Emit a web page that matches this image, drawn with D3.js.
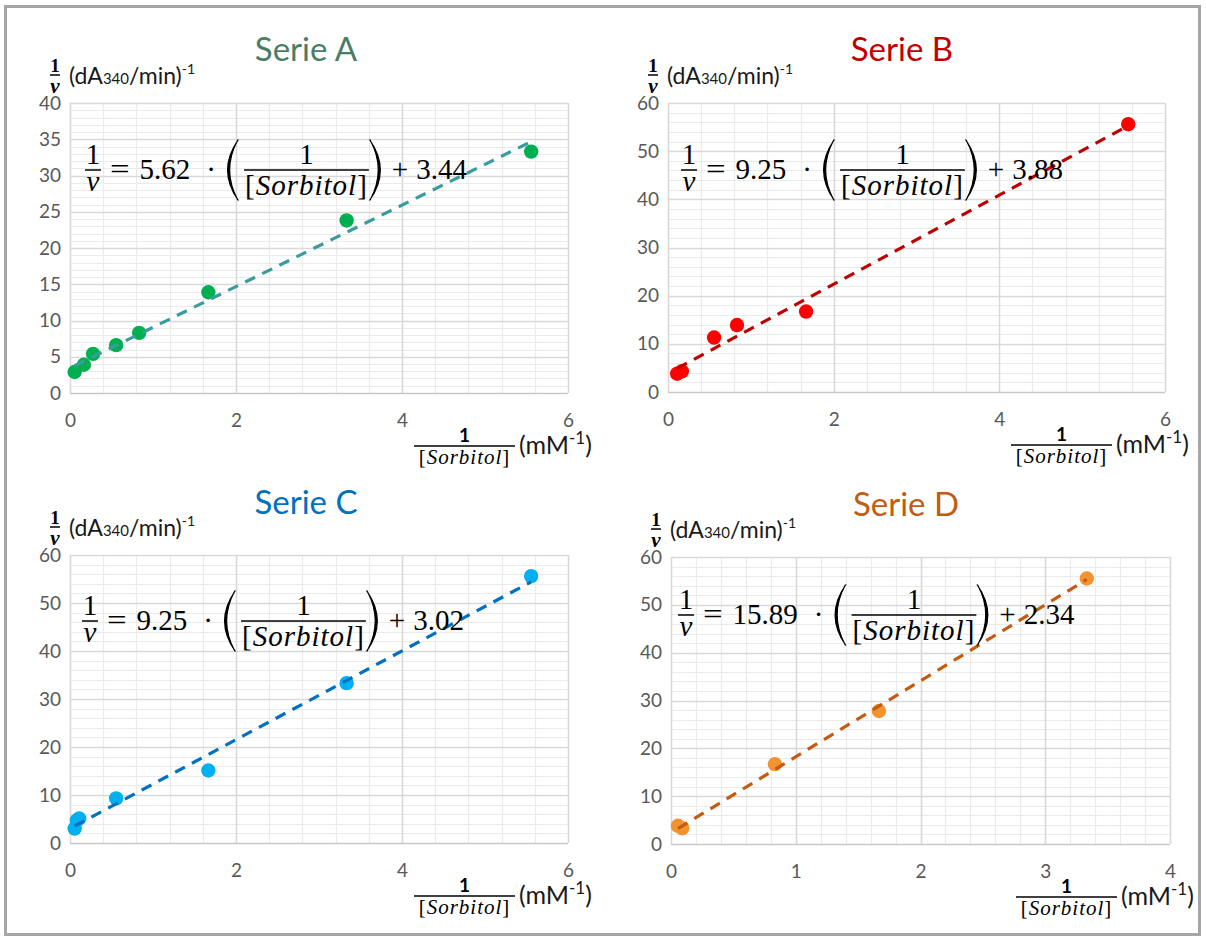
<!DOCTYPE html>
<html><head><meta charset="utf-8">
<script src="https://cdn.jsdelivr.net/npm/d3@7"></script>
<style>body{margin:0;background:#fff}svg{display:block}</style>
</head><body>
<svg id="chart" width="1206" height="940"></svg>
<script>
// ---- data ----
const titles = ["Serie A", "Serie B", "Serie C", "Serie D"];
const xA = [0.056, 0.167, 0.278, 0.556, 0.833, 1.667, 3.333, 5.556];
const yA = [2.9, 3.9, 5.4, 6.6, 8.3, 13.9, 23.8, 33.3];
const xB = [0.111, 0.167, 0.556, 0.833, 1.667, 5.556];
const yB = [3.8, 4.3, 11.3, 13.9, 16.7, 55.6];
const xC = [0.056, 0.083, 0.111, 0.556, 1.667, 3.333, 5.556];
const yC = [3.0, 4.7, 5.1, 9.3, 15.1, 33.3, 55.6];
const xD = [0.056, 0.09, 0.833, 1.667, 3.333];
const yD = [3.8, 3.3, 16.7, 27.8, 55.5];
const slopes = [5.62, 9.25, 9.25, 15.89];
const intercepts = [3.44, 3.88, 3.02, 2.34];
const xTickLabels = [[0, 2, 4, 6], [0, 2, 4, 6], [0, 2, 4, 6], [0, 1, 2, 3, 4]];
const yTickLabels = [[0, 5, 10, 15, 20, 25, 30, 35, 40], [0, 10, 20, 30, 40, 50, 60], [0, 10, 20, 30, 40, 50, 60], [0, 10, 20, 30, 40, 50, 60]];
const xSeries = [xA, xB, xC, xD];
const ySeries = [yA, yB, yC, yD];

// ---- styles / layout ----
const titleColors = ["#4a7d66", "#c00000", "#0070c0", "#c55a11"];
const pointColors = ["#00b050", "#ff0000", "#00b0f0", "#f39330"];
const lineColors = ["#3a9c9e", "#c00000", "#0070c0", "#c55a11"];
const boxes = [
  {l: 70, t: 103, r: 568, b: 393, tx: 306, ty: 61, ex: 85, ey: 170},
  {l: 668, t: 103, r: 1165, b: 392, tx: 902, ty: 61, ex: 681, ey: 170},
  {l: 70, t: 555, r: 568, b: 843, tx: 306, ty: 514, ex: 82, ey: 621},
  {l: 671, t: 557, r: 1170, b: 844, tx: 906, ty: 516, ex: 678, ey: 615}
];
const SANS = "Lato, 'Open Sans', sans-serif";
const SERIF = "'Liberation Serif', 'DejaVu Serif', serif";

const svg = d3.select("#chart");
svg.append("rect").attr("x", 0).attr("y", 0).attr("width", 1206).attr("height", 940).attr("fill", "#fff");
svg.append("rect").attr("x", 5.5).attr("y", 6.5).attr("width", 1194).attr("height", 928)
  .attr("fill", "none").attr("stroke", "#a6a6a6").attr("stroke-width", 3);

function parenPath(x, yc, h, w, left) {
  const top = yc - h / 2, bot = yc + h / 2;
  if (left) {
    return `M${x + w},${top} Q${x - w * 0.9},${yc} ${x + w},${bot} L${x + w - 0.3},${bot} Q${x - w * 0.5},${yc} ${x + w - 0.3},${top} Z`;
  }
  return `M${x},${top} Q${x + w * 1.9},${yc} ${x},${bot} L${x + 0.3},${bot} Q${x + w * 1.5},${yc} ${x + 0.3},${top} Z`;
}

function drawEquation(g, x0, yc, slope, intercept) {
  const fs = 29;
  const mk = (txt, italic) => g.append("text").attr("font-family", SERIF).attr("font-size", fs)
    .attr("font-style", italic ? "italic" : "normal").attr("fill", "#000").text(txt);
  let x = x0;
  const fw = 16;
  mk("1").attr("x", x + fw / 2).attr("y", yc - 6).attr("text-anchor", "middle");
  mk("v", true).attr("x", x + fw / 2).attr("y", yc + 21).attr("text-anchor", "middle");
  g.append("line").attr("x1", x).attr("x2", x + fw).attr("y1", yc).attr("y2", yc).attr("stroke", "#000").attr("stroke-width", 1.5);
  x += fw + 9;
  const eq = mk("=").attr("x", x).attr("y", yc + 9).attr("transform", `translate(${x},0) scale(1.2,1) translate(${-x},0)`);
  x += eq.node().getComputedTextLength() * 1.2 + 10;
  const s = mk(slope.toFixed(2)).attr("x", x).attr("y", yc + 9);
  x += s.node().getComputedTextLength() + 16;
  const dot = mk("\u00b7").attr("x", x).attr("y", yc + 9);
  x += dot.node().getComputedTextLength() + 11;
  g.append("path").attr("d", parenPath(x, yc, 60, 11, true)).attr("fill", "#000").attr("stroke", "#000").attr("stroke-width", 1.2);
  x += 17;
  const d2 = g.append("text").attr("font-family", SERIF).attr("font-size", fs).attr("fill", "#000").attr("letter-spacing", 1);
  d2.append("tspan").text("[");
  d2.append("tspan").attr("font-style", "italic").text("Sorbitol");
  d2.append("tspan").text("]");
  const dw = d2.node().getComputedTextLength() + 2;
  d2.attr("x", x + 1).attr("y", yc + 25);
  mk("1").attr("x", x + dw / 2).attr("y", yc - 6).attr("text-anchor", "middle");
  g.append("line").attr("x1", x).attr("x2", x + dw).attr("y1", yc).attr("y2", yc).attr("stroke", "#000").attr("stroke-width", 1.5);
  x += dw + 1;
  g.append("path").attr("d", parenPath(x, yc, 60, 11, false)).attr("fill", "#000").attr("stroke", "#000").attr("stroke-width", 1.2);
  x += 22;
  const plus = mk("+").attr("x", x).attr("y", yc + 9);
  x += plus.node().getComputedTextLength() + 8;
  mk(intercept.toFixed(2)).attr("x", x).attr("y", yc + 9);
}

boxes.forEach((bx, i) => {
  const g = svg.append("g");
  const xMax = d3.max(xTickLabels[i]), yMax = d3.max(yTickLabels[i]);
  const xStep = xTickLabels[i][1] - xTickLabels[i][0];
  const yStep = yTickLabels[i][1] - yTickLabels[i][0];
  const x = d3.scaleLinear().domain([0, xMax]).range([bx.l, bx.r]);
  const y = d3.scaleLinear().domain([0, yMax]).range([bx.b, bx.t]);

  // minor gridlines
  const xMinor = d3.range(0, xMax + 1e-9, xStep / 5);
  const yMinor = d3.range(0, yMax + 1e-9, yStep / 5);
  g.selectAll(".vm").data(xMinor).join("line")
    .attr("x1", d => Math.round(x(d)) + 0.5).attr("x2", d => Math.round(x(d)) + 0.5)
    .attr("y1", bx.t).attr("y2", bx.b).attr("stroke", "#ebebeb").attr("stroke-width", 1.2);
  g.selectAll(".hm").data(yMinor).join("line")
    .attr("y1", d => Math.round(y(d)) + 0.5).attr("y2", d => Math.round(y(d)) + 0.5)
    .attr("x1", bx.l).attr("x2", bx.r).attr("stroke", "#ebebeb").attr("stroke-width", 1.2);
  // major gridlines
  g.selectAll(".vM").data(xTickLabels[i]).join("line")
    .attr("x1", d => Math.round(x(d)) + 0.5).attr("x2", d => Math.round(x(d)) + 0.5)
    .attr("y1", bx.t).attr("y2", bx.b).attr("stroke", "#d9d9d9").attr("stroke-width", 1.5);
  g.selectAll(".hM").data(yTickLabels[i]).join("line")
    .attr("y1", d => Math.round(y(d)) + 0.5).attr("y2", d => Math.round(y(d)) + 0.5)
    .attr("x1", bx.l).attr("x2", bx.r).attr("stroke", d => d === 0 ? "#c8c8c8" : "#d9d9d9").attr("stroke-width", 1.5);

  // tick labels via d3 axes
  const xAxis = d3.axisBottom(x).tickValues(xTickLabels[i]).tickSize(0).tickPadding(21).tickFormat(d3.format("d"));
  const yAxis = d3.axisLeft(y).tickValues(yTickLabels[i]).tickSize(0).tickPadding(9).tickFormat(d3.format("d"));
  const gx = g.append("g").attr("transform", `translate(0,${bx.b})`).call(xAxis);
  const gy = g.append("g").attr("transform", `translate(${bx.l},0)`).call(yAxis);
  [gx, gy].forEach(a => {
    a.select(".domain").remove();
    a.selectAll("text").attr("font-family", SANS).attr("font-size", 19).attr("fill", "#595959");
  });

  // points
  const pts = xSeries[i].map((v, k) => [v, ySeries[i][k]]);
  g.selectAll(".pt").data(pts).join("circle")
    .attr("cx", d => x(d[0])).attr("cy", d => y(d[1])).attr("r", 7.2)
    .attr("fill", pointColors[i]);
  // trendline (the fitted equation shown on the chart)
  const x0 = d3.min(xSeries[i]), x1 = d3.max(xSeries[i]);
  const line = d3.line().x(d => x(d)).y(d => y(slopes[i] * d + intercepts[i]));
  g.append("path").attr("d", line([x0, x1])).attr("fill", "none")
    .attr("stroke", lineColors[i]).attr("stroke-width", 3.2).attr("stroke-dasharray", "11,8");

  // title
  g.append("text").attr("x", bx.tx).attr("y", bx.ty).attr("text-anchor", "middle")
    .attr("font-family", SANS).attr("font-size", 33).attr("fill", titleColors[i]).text(titles[i]);

  // y-axis label
  const yl = g.append("g");
  const fx = bx.l - 15, by = bx.t - 19;
  yl.append("text").attr("x", fx).attr("y", by - 12).attr("text-anchor", "middle")
    .attr("font-family", SERIF).attr("font-weight", "bold").attr("font-size", 19).text("1");
  yl.append("line").attr("x1", fx - 5).attr("x2", fx + 5).attr("y1", by - 9).attr("y2", by - 9).attr("stroke", "#000").attr("stroke-width", 1.5);
  yl.append("text").attr("x", fx).attr("y", by + 9).attr("text-anchor", "middle")
    .attr("font-family", SERIF).attr("font-weight", "bold").attr("font-style", "italic").attr("font-size", 21).text("v");
  const yt = yl.append("text").attr("x", bx.l - 1).attr("y", by).attr("font-family", SANS).attr("font-size", 23).attr("fill", "#1a1a1a");
  yt.append("tspan").text("(dA");
  yt.append("tspan").attr("font-size", 15).text("340");
  yt.append("tspan").text("/min)");
  yt.append("tspan").attr("font-size", 14).attr("dy", -10).text("-1");

  // x-axis label
  const xl = g.append("g");
  const barY = bx.b + 53, bl = bx.r - 154, br = bx.r - 53;
  xl.append("line").attr("x1", bl).attr("x2", br).attr("y1", barY).attr("y2", barY).attr("stroke", "#000").attr("stroke-width", 1.6);
  xl.append("text").attr("x", (bl + br) / 2).attr("y", barY - 4).attr("text-anchor", "middle")
    .attr("font-family", SANS).attr("font-weight", "bold").attr("font-size", 19).attr("fill", "#000").text("1");
  const den = xl.append("text").attr("x", (bl + br) / 2).attr("y", barY + 18).attr("text-anchor", "middle")
    .attr("font-family", SERIF).attr("font-size", 21).attr("letter-spacing", 1).attr("fill", "#000");
  den.append("tspan").text("[");
  den.append("tspan").attr("font-style", "italic").text("Sorbitol");
  den.append("tspan").text("]");
  const mt = xl.append("text").attr("x", br + 4).attr("y", barY + 8).attr("font-family", SANS).attr("font-size", 25).attr("fill", "#1a1a1a");
  mt.append("tspan").text("(mM");
  mt.append("tspan").attr("font-size", 17).attr("dy", -10).text("-1");
  mt.append("tspan").attr("dy", 10).text(")");

  // equation
  drawEquation(g.append("g"), bx.ex, bx.ey, slopes[i], intercepts[i]);
});
</script>
</body></html>
